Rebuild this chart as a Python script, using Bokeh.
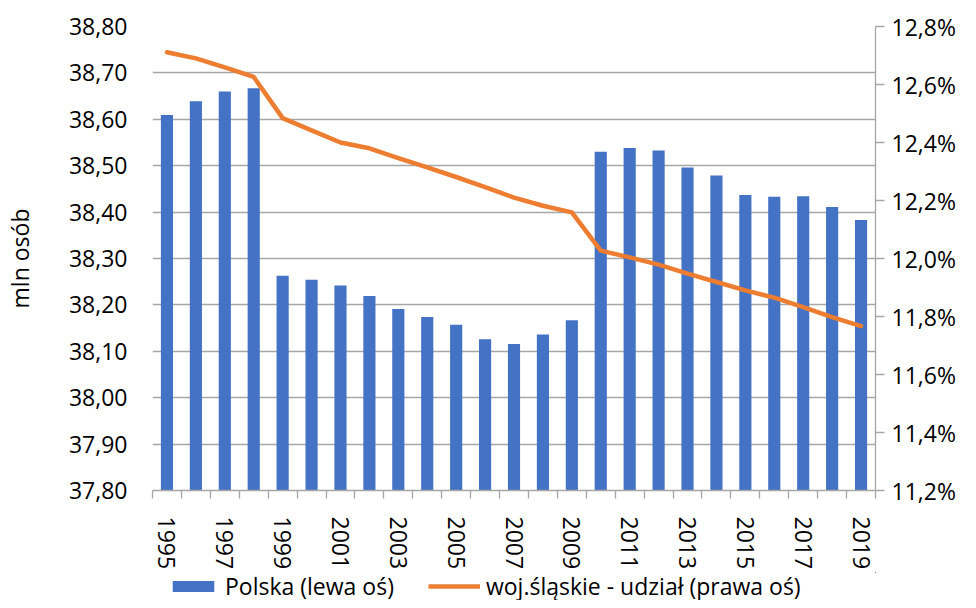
from bokeh.plotting import figure
from bokeh.layouts import column
from bokeh.models import (Range1d, LinearAxis, FixedTicker, CustomJSTickFormatter,
                          Legend, LegendItem, ColumnDataSource)
from bokeh.embed import file_html
from bokeh.resources import INLINE

years = [1995, 1996, 1997, 1998, 1999, 2000, 2001, 2002, 2003, 2004, 2005, 2006, 2007,
         2008, 2009, 2010, 2011, 2012, 2013, 2014, 2015, 2016, 2017, 2018, 2019]
polska = [38.609, 38.639, 38.660, 38.667, 38.263, 38.254, 38.242, 38.219, 38.191, 38.174,
          38.157, 38.126, 38.116, 38.136, 38.167, 38.530, 38.538, 38.533, 38.496, 38.479,
          38.437, 38.433, 38.434, 38.411, 38.383]
slaskie_udzial = [12.711, 12.690, 12.659, 12.626, 12.484, 12.442, 12.400, 12.380, 12.346,
                  12.314, 12.281, 12.246, 12.210, 12.182, 12.159, 12.027, 12.004, 11.979,
                  11.948, 11.919, 11.890, 11.865, 11.832, 11.798, 11.767]
left_ticks = [37.8, 37.9, 38.0, 38.1, 38.2, 38.3, 38.4, 38.5, 38.6, 38.7, 38.8]
right_ticks = [11.2, 11.4, 11.6, 11.8, 12.0, 12.2, 12.4, 12.6, 12.8]
year_labels = [1995, 1997, 1999, 2001, 2003, 2005, 2007, 2009, 2011, 2013, 2015, 2017, 2019]
legend_labels = ["Polska (lewa oś)", "woj.śląskie - udział (prawa oś)"]

FONT = "Open Sans"
FS = "23px"
GRID = "#a6a6a6"
BLUE = "#4472C4"
ORANGE = "#ED7D31"
W = 966

src = ColumnDataSource(dict(year=years, polska=polska, udzial=slaskie_udzial))

p = figure(width=W, height=572, output_backend="svg", toolbar_location=None,
           x_range=Range1d(years[0] - 0.5, years[-1] + 0.5),
           y_range=Range1d(left_ticks[0], left_ticks[-1]),
           min_border_left=146, min_border_right=91, min_border_top=26,
           min_border_bottom=74)
p.outline_line_color = None
p.extra_y_ranges = {"right": Range1d(right_ticks[0], right_ticks[-1])}

p.vbar(x="year", top="polska", bottom=left_ticks[0], width=0.42, source=src,
       fill_color=BLUE, line_color=None)
p.line(x="year", y="udzial", source=src, y_range_name="right",
       line_color=ORANGE, line_width=4.5, line_join="round", line_cap="round")

# x axis
xa = p.xaxis[0]
xa.ticker = FixedTicker(ticks=year_labels, minor_ticks=[y - 0.5 for y in years] + [years[-1] + 0.5])
xa.major_label_orientation = "vertical"
xa.major_tick_line_color = None
xa.major_tick_out = 0
xa.major_tick_in = 0
xa.minor_tick_out = 8
xa.minor_tick_in = 0
xa.minor_tick_line_color = GRID
xa.minor_tick_line_width = 1.3
xa.axis_line_color = GRID
xa.axis_line_width = 1.3
xa.major_label_standoff = 18
xa.major_label_text_font = FONT
xa.major_label_text_font_size = FS
xa.major_label_text_color = "black"

# left axis
ya = p.yaxis[0]
ya.ticker = FixedTicker(ticks=left_ticks)
ya.formatter = CustomJSTickFormatter(code="return tick.toFixed(2).replace('.', ',');")
ya.axis_line_color = None
ya.major_tick_line_color = None
ya.minor_tick_line_color = None
ya.major_tick_out = 0
ya.major_tick_in = 0
ya.major_label_standoff = 25
ya.major_label_text_font = FONT
ya.major_label_text_font_size = FS
ya.major_label_text_color = "black"
ya.axis_label = "mln osób"
ya.axis_label_text_font = FONT
ya.axis_label_text_font_size = FS
ya.axis_label_text_font_style = "normal"
ya.axis_label_text_color = "black"
ya.axis_label_standoff = 30

# right axis
ra = LinearAxis(y_range_name="right", ticker=FixedTicker(ticks=right_ticks),
                formatter=CustomJSTickFormatter(code="return tick.toFixed(1).replace('.', ',') + '%';"))
ra.axis_line_color = GRID
ra.axis_line_width = 1.3
ra.major_tick_line_color = GRID
ra.major_tick_line_width = 1.3
ra.major_tick_out = 9
ra.major_tick_in = 0
ra.minor_tick_line_color = None
ra.major_label_standoff = 7
ra.major_label_text_font = FONT
ra.major_label_text_font_size = FS
ra.major_label_text_color = "black"
p.add_layout(ra, "right")

p.xgrid.grid_line_color = None
p.ygrid.grid_line_color = GRID
p.ygrid.grid_line_width = 1.3

# legend strip below the chart (its series renderers lie outside its view)
lg = figure(width=W, height=28, output_backend="svg", toolbar_location=None,
            x_range=Range1d(0, 1), y_range=Range1d(0, 1),
            x_axis_type=None, y_axis_type=None,
            min_border_left=146, min_border_right=91, min_border_top=0, min_border_bottom=0)
lg.outline_line_color = None
lg.grid.grid_line_color = None
kb = lg.vbar(x="year", top="polska", bottom=left_ticks[0], width=0.42, source=src,
             fill_color=BLUE, line_color=None)
kl = lg.line(x="year", y="udzial", source=src, line_color=ORANGE, line_width=4.5)
legend = Legend(items=[LegendItem(label=legend_labels[0], renderers=[kb]),
                       LegendItem(label=legend_labels[1], renderers=[kl])],
                orientation="horizontal", location=(15, -2),
                glyph_width=52, glyph_height=14, label_standoff=6, spacing=34,
                padding=0, margin=0, border_line_color=None, background_fill_alpha=0,
                label_text_font=FONT, label_text_font_size=FS, label_text_color="black")
lg.add_layout(legend, "center")

open("out.html", "w").write(file_html(column(p, lg, spacing=0), INLINE))
